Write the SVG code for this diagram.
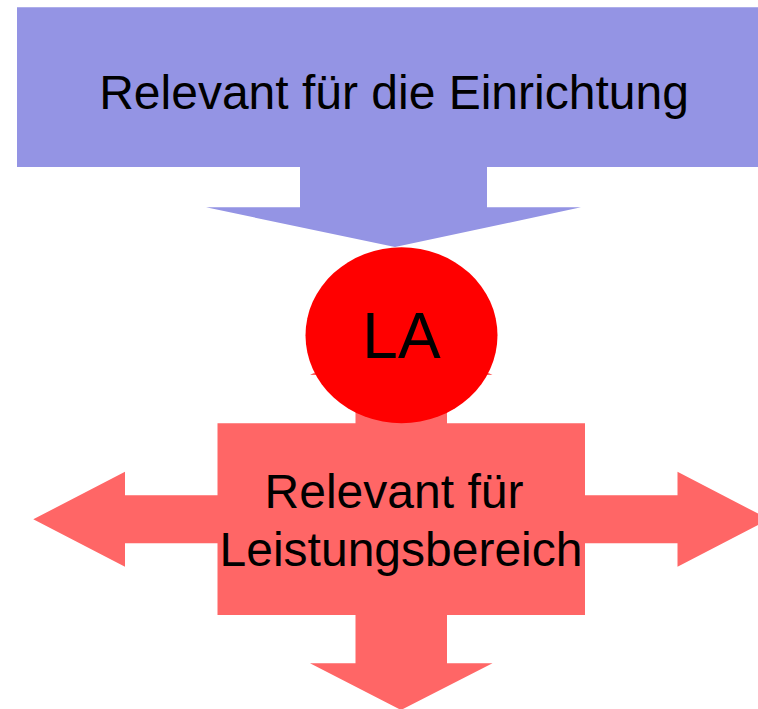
<svg xmlns="http://www.w3.org/2000/svg" width="758" height="709" viewBox="0 0 758 709">
  <style>
    .lbl { font-family: "Liberation Sans", Arial, sans-serif; fill: #000000; text-anchor: middle; }
    .t48 { font-size: 48px; }
    .t64 { font-size: 64px; }
  </style>
  <rect x="0" y="0" width="758" height="709" fill="#ffffff"/>
  <g id="connectors"></g>
  <g id="leistungsbereich">
    <polygon fill="#ff6666" points="401,328 492.5,375 447,375 447,423.3 585,423.3 585,495.3 677.5,495.3 677.5,471.7 769,519.3 677.5,566.7 677.5,543.3 585,543.3 585,615 447,615 447,663.3 492.5,663.3 401,710 310,663.3 355.5,663.3 355.5,615 217.5,615 217.5,543.3 125,543.3 125,566.7 33.3,519.3 125,471.7 125,495.3 217.5,495.3 217.5,423.3 355.5,423.3 355.5,375 310,375"/>
    <text class="lbl t48" x="394" y="508.3">Relevant für</text>
    <text class="lbl t48" x="401" y="565.7">Leistungsbereich</text>
  </g>
  <g id="einrichtung">
    <polygon fill="#9494e4" points="17,7.3 771,7.3 771,167 487,167 487,207.3 581,207.3 395,247 206,207.3 300,207.3 300,167 17,167"/>
    <text class="lbl t48" x="394" y="109.3">Relevant für die Einrichtung</text>
  </g>
  <g id="la">
    <ellipse cx="401.5" cy="335.3" rx="96" ry="88" fill="#ff0000"/>
    <text class="lbl t64" x="401.5" y="358.3">LA</text>
  </g>
</svg>
